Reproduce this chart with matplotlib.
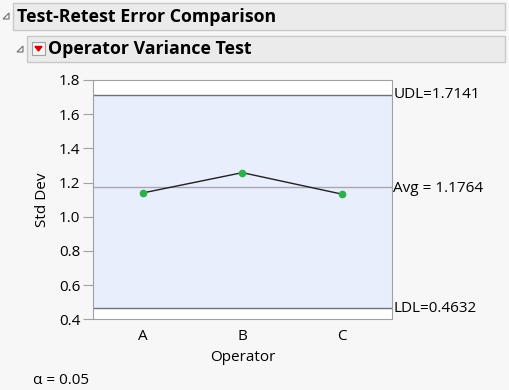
import matplotlib.pyplot as plt
from matplotlib.patches import Rectangle, Polygon

# data
operators = ['A', 'B', 'C']
stdDev = [1.139, 1.258, 1.132]
avgValue = 1.1764
udlValue = 1.7141
ldlValue = 0.4632
alpha = 0.05

plt.rcParams['font.family'] = ['Open Sans', 'DejaVu Sans']

fig = plt.figure(figsize=(5.09, 3.90), dpi=100)
fig.patch.set_facecolor('#F7F7F7')

W, H = 509.0, 390.0

def box(x0, y0, x1, y1):
    # header box in pixel coords (top-left origin)
    fig.patches.append(Rectangle((x0 / W, 1 - y1 / H), (x1 - x0) / W, (y1 - y0) / H,
                                 transform=fig.transFigure, facecolor='#EBEBEB',
                                 edgecolor='#C8C8C8', linewidth=1))

def triangle(x, y):
    fig.patches.append(Polygon([((x + 6) / W, 1 - y / H), ((x + 6) / W, 1 - (y + 6) / H),
                                (x / W, 1 - (y + 6) / H)], closed=True,
                               transform=fig.transFigure, facecolor='none',
                               edgecolor='#707070', linewidth=0.8))

box(13, 3, 505, 30)
box(27, 36, 505, 62)
triangle(3, 13)
triangle(17, 46)
# red dropdown icon
fig.patches.append(Rectangle((32 / W, 1 - 55 / H), 13 / W, 13 / H, transform=fig.transFigure,
                             facecolor='#F4F4F4', edgecolor='#A0A0A0', linewidth=0.8))
fig.patches.append(Polygon([(35 / W, 1 - 46.5 / H), (42 / W, 1 - 46.5 / H), (38.5 / W, 1 - 51 / H)],
                           closed=True, transform=fig.transFigure, facecolor='#D00000',
                           edgecolor='#D00000'))

fig.text(17 / W, 1 - 17 / H, 'Test-Retest Error Comparison', fontsize=12.8,
         fontweight='bold', va='center', ha='left')
fig.text(48 / W, 1 - 49.5 / H, 'Operator Variance Test', fontsize=12.8,
         fontweight='bold', va='center', ha='left')

ax = fig.add_axes([92.7 / W, 70.7 / H, 299.3 / W, 239.3 / H])
ax.set_facecolor('white')
xs = list(range(len(operators)))
ax.set_xlim(-0.5, 2.5)
ax.set_ylim(0.4, 1.8)

ax.axhspan(ldlValue, udlValue, facecolor='#E8EEFC', zorder=0)
ax.axhline(udlValue, color='#70707A', lw=1, zorder=1)
ax.axhline(ldlValue, color='#70707A', lw=1, zorder=1)
ax.axhline(avgValue, color='#A8A8B4', lw=1, zorder=1)
ax.plot(xs, stdDev, color='#202020', lw=1, zorder=2)
ax.plot(xs, stdDev, 'o', color='#2DB04A', markersize=4.5, zorder=3)

for sp in ax.spines.values():
    sp.set_color('#A0A0A0')
ax.set_xticks(xs)
ax.set_xticklabels(operators)
ax.tick_params(axis='x', length=0, pad=7, labelsize=11)
ax.tick_params(axis='y', length=7, color='#A0A0A0', labelsize=11, pad=2)
ax.set_yticks([0.4, 0.6, 0.8, 1.0, 1.2, 1.4, 1.6, 1.8])
ax.set_yticklabels(['%.1f' % v for v in [0.4, 0.6, 0.8, 1.0, 1.2, 1.4, 1.6, 1.8]])
ax.set_ylabel('Std Dev', fontsize=11, labelpad=6)
ax.set_xlabel('Operator', fontsize=11, labelpad=4)

tr = ax.get_yaxis_transform()
ax.text(1.005, udlValue, 'UDL=%.4f' % udlValue, transform=tr, va='center', fontsize=11)
ax.text(1.005, avgValue - 0.01, 'Avg = %.4f' % avgValue, transform=tr, va='center', fontsize=11)
ax.text(1.005, ldlValue, 'LDL=%.4f' % ldlValue, transform=tr, va='center', fontsize=11)

fig.text(33 / W, 1 - 380 / H, '\u03b1 = %.2f' % alpha, fontsize=11, va='center', ha='left')

plt.savefig('out.png', dpi=100, facecolor=fig.get_facecolor())
